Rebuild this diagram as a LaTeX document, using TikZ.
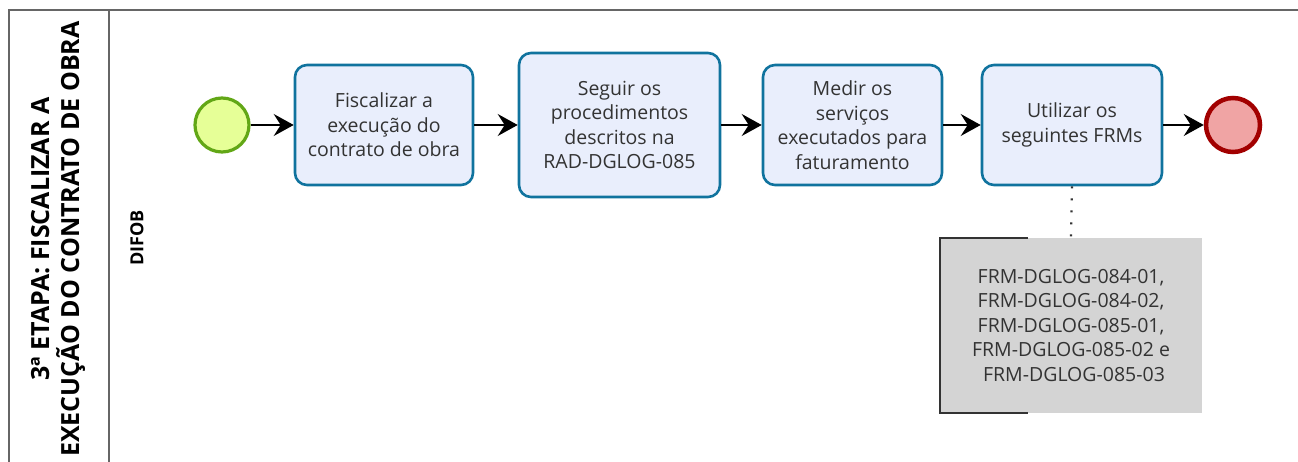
\documentclass[tikz,border=0pt]{standalone}
\usepackage{fontspec}
\setmainfont{Open Sans}
\usetikzlibrary{arrows.meta,positioning}
\definecolor{txt}{HTML}{333333}
\definecolor{taskfill}{HTML}{E9EEFC}
\definecolor{taskdraw}{HTML}{10739E}
\definecolor{startfill}{HTML}{E6FF97}
\definecolor{startdraw}{HTML}{62A716}
\definecolor{endfill}{HTML}{F0A4A4}
\definecolor{enddraw}{HTML}{A20000}
\definecolor{annfill}{HTML}{D4D4D4}
\definecolor{poolline}{HTML}{666666}
\tikzset{
  x=1pt,y=-1pt,
  task/.style={draw=taskdraw, fill=taskfill, line width=2.6pt, rounded corners=12pt,
    align=center, text=txt, font=\fontsize{19.5}{24.5}\selectfont, inner sep=0pt},
  flow/.style={line width=1.8pt, -{Stealth[length=20pt,width=22pt,inset=7pt]}},
  startev/.style={circle, draw=startdraw, fill=startfill, line width=3.2pt, minimum size=54pt, inner sep=0pt},
  endev/.style={circle, draw=enddraw, fill=endfill, line width=4.5pt, minimum size=54pt, inner sep=0pt},
}
\begin{document}
\begin{tikzpicture}
\useasboundingbox (0,0) rectangle (1298,462);
% pool
\draw[poolline, line width=1.5pt] (1298,10) -- (9,10) -- (9,470);
\draw[poolline, line width=1.5pt] (109,10) -- (109,470);
\node[rotate=90, align=center, text=black, font=\bfseries\fontsize{25}{30}\selectfont] (pool) at (58,239)
  {3ª ETAPA: FISCALIZAR A\\EXECUÇÃO DO CONTRATO DE OBRA};
\node[rotate=90, text=black, font=\bfseries\fontsize{18}{20}\selectfont] (lane) at (137,238) {DIFOB};
% events and tasks
\node[startev] (start) at (222,125) {};
\node[task, minimum width=178pt, minimum height=120pt] (t1) at (384,125) {Fiscalizar a\\execução do\\contrato de obra};
\node[task, minimum width=201pt, minimum height=144pt] (t2) at (619.5,125) {Seguir os\\procedimentos\\descritos na\\RAD-DGLOG-085};
\node[task, minimum width=179pt, minimum height=120pt] (t3) at (852.5,125) {Medir os\\serviços\\executados para\\faturamento};
\node[task, minimum width=180pt, minimum height=120pt] (t4) at (1072,125) {Utilizar os\\seguintes FRMs};
\node[endev] (end) at (1233,125) {};
% flows
\draw[flow] (start) -- (t1);
\draw[flow] (t1) -- (t2);
\draw[flow] (t2) -- (t3);
\draw[flow] (t3) -- (t4);
\draw[flow] (t4) -- (end);
% annotation
\node[fill=annfill, minimum width=262pt, minimum height=175pt, inner sep=0pt, align=center,
  text=txt, font=\fontsize{19.5}{24.5}\selectfont] (ann) at (1071,325.5)
  {FRM-DGLOG-084-01,\\FRM-DGLOG-084-02,\\FRM-DGLOG-085-01,\\FRM-DGLOG-085-02 e\\\hspace*{6pt}FRM-DGLOG-085-03};
\draw[txt, line width=2pt] ([xshift=88pt]ann.north west) -- (ann.north west) -- (ann.south west) -- ([xshift=88pt]ann.south west);
\draw[txt, line width=2.2pt, dash pattern=on 2pt off 10pt] (t4.south) -- (ann.north);
\end{tikzpicture}
\end{document}
